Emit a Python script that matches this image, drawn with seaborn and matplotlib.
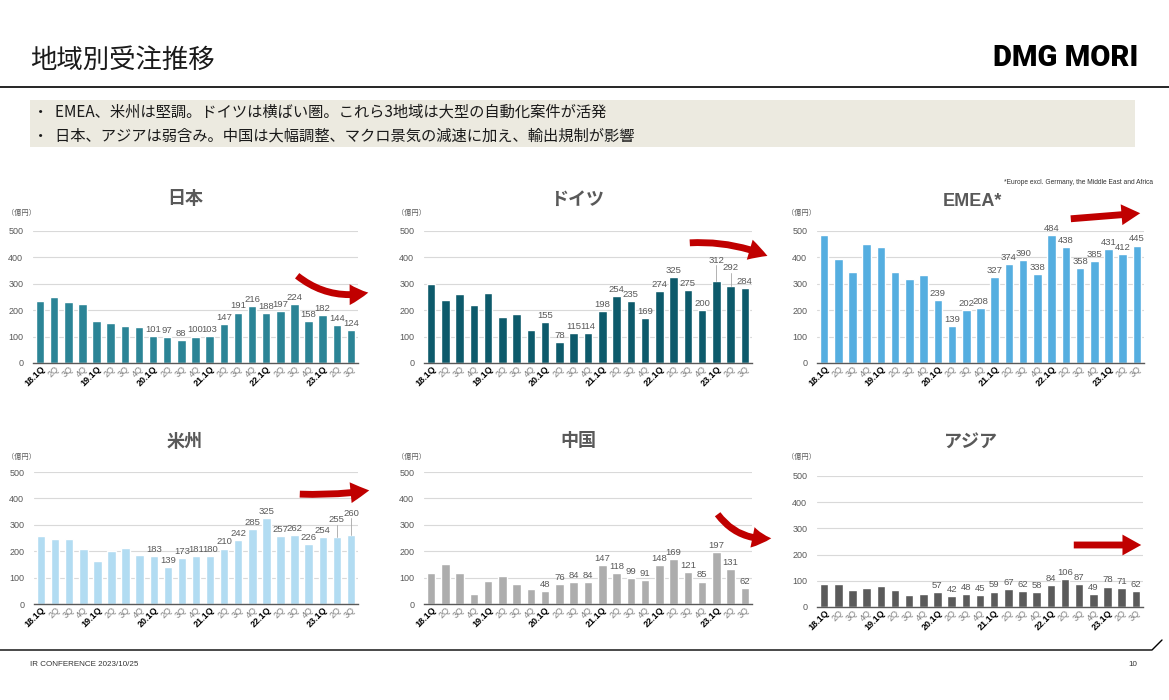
import numpy as np
import pandas as pd
import matplotlib
matplotlib.use("Agg")
import matplotlib.pyplot as plt
import matplotlib.patches as mpatches
from matplotlib.lines import Line2D
import seaborn as sns

sns.set_theme(style="white")
plt.rcParams['font.family'] = ['Liberation Sans', 'Noto Sans CJK JP', 'DejaVu Sans']

quarters = ["18.1Q", "2Q", "3Q", "4Q", "19.1Q", "2Q", "3Q", "4Q", "20.1Q", "2Q", "3Q", "4Q",
            "21.1Q", "2Q", "3Q", "4Q", "22.1Q", "2Q", "3Q", "4Q", "23.1Q", "2Q", "3Q"]

japan = [236, 251, 232, 222, 158, 151, 140, 137, 101, 97, 88, 100, 103, 147, 191, 216, 188, 197, 224, 158, 182, 144, 124]
germany = [300, 240, 263, 219, 264, 175, 187, 126, 155, 78, 115, 114, 198, 254, 235, 169, 274, 325, 275, 200, 312, 292, 284]
emea = [485, 394, 346, 449, 438, 346, 318, 332, 239, 139, 202, 208, 327, 374, 390, 338, 484, 438, 358, 385, 431, 412, 445]
americas = [257, 246, 247, 208, 163, 199, 211, 184, 183, 139, 173, 181, 180, 210, 242, 285, 325, 257, 262, 226, 254, 255, 260]
china = [119, 150, 117, 36, 88, 106, 77, 55, 48, 76, 84, 84, 147, 118, 99, 91, 148, 169, 121, 85, 197, 131, 62]
asia = [89, 88, 63, 74, 80, 66, 44, 49, 57, 42, 48, 45, 59, 67, 62, 58, 84, 106, 87, 49, 78, 71, 62]

titles = ["日本", "ドイツ", "EMEA*", "米州", "中国", "アジア"]
colors = ["#2B8496", "#0D5A6B", "#55AEE0", "#B2DCF2", "#ADADAD", "#5A5A5A"]

W, H = 1169, 700
fig = plt.figure(figsize=(W / 100, H / 100), dpi=100)


def fx(x):
    return x / W


def fy(y):
    return 1 - y / H


# header
fig.text(fx(30), fy(60), "地域別受注推移", fontsize=19, color="#1a1a1a", va="center", ha="left",
         family=['Noto Sans CJK JP'])
fig.text(fx(1138), fy(58), "DMG MORI", fontsize=21, fontweight="heavy", color="black", va="center",
         ha="right", family=['Roboto', 'DejaVu Sans'])
fig.add_artist(Line2D([0, 1], [fy(87), fy(87)], color="black", lw=1.2))
fig.add_artist(mpatches.Rectangle((fx(30), fy(147)), fx(1105), 47 / H, color="#ECEAE0", lw=0))
fig.text(fx(33), fy(112), "・  EMEA、米州は堅調。ドイツは横ばい圏。これら3地域は大型の自動化案件が活発",
         fontsize=11, va="center", ha="left", color="#1a1a1a", family=['Noto Sans CJK JP'])
fig.text(fx(33), fy(136), "・  日本、アジアは弱含み。中国は大幅調整、マクロ景気の減速に加え、輸出規制が影響",
         fontsize=11, va="center", ha="left", color="#1a1a1a", family=['Noto Sans CJK JP'])

# footer
fig.add_artist(Line2D([0, fx(1152), fx(1162)], [fy(650), fy(650), fy(640)], color="black", lw=1))
fig.text(fx(30), fy(665), "IR CONFERENCE 2023/10/25", fontsize=5.8, va="center", ha="left", color="#333333")
fig.text(fx(1137), fy(665), "10", fontsize=5.8, va="center", ha="right", color="#333333")

fig.text(fx(1153), fy(182), "*Europe excl. Germany, the Middle East and Africa", fontsize=4.8,
         va="center", ha="right", color="#333333")

# panel geometry (pixels): left, right, y_top(500), y_bottom(0)
geoms = [
    (33, 358, 231, 363),
    (424, 752, 231, 363),
    (817, 1144, 231, 363),
    (34, 358, 472, 604),
    (424, 752, 472, 604),
    (817, 1143, 476, 607),
]
title_pos = [(185, 200), (577, 200), (972, 202), (185, 442), (578, 442), (971, 442)]
unit_pos = [(7, 213), (397, 213), (787, 213), (7, 457), (397, 457), (787, 457)]
series = [japan, germany, emea, americas, china, asia]

# label offsets for labels moved away from bars (drawn with leader lines)
leader = {(1, 20): 60, (1, 21): 52, (3, 21): 48, (3, 22): 66}

for k, (vals, col, ttl, g) in enumerate(zip(series, colors, titles, geoms)):
    l, r, t, b = g
    ax = fig.add_axes([fx(l), fy(b), (r - l) / W, (b - t) / H])
    df = pd.DataFrame({"q": np.arange(len(vals)), "v": vals})
    sns.barplot(data=df, x="q", y="v", color=col, saturation=1, width=0.6, ax=ax)
    ax.set_xlim(-0.5, len(vals) - 0.5)
    ax.set_ylim(0, 500)
    ax.set_yticks(range(0, 501, 100))
    ax.grid(axis="y", color="#D9D9D9", lw=0.8)
    ax.set_axisbelow(True)
    for s in ["top", "right", "left"]:
        ax.spines[s].set_visible(False)
    ax.spines["bottom"].set_color("#595959")
    ax.spines["bottom"].set_linewidth(1)
    ax.set_xlabel("")
    ax.set_ylabel("")
    ax.tick_params(axis="y", length=0, labelsize=6.5, labelcolor="#595959", pad=7)
    ax.tick_params(axis="x", length=0, pad=1)
    ax.set_xticks(np.arange(len(vals)))
    ax.set_xticklabels(quarters, rotation=45, ha="right", rotation_mode="anchor", fontsize=6.5)
    for lab, q in zip(ax.get_xticklabels(), quarters):
        if "." in q:
            lab.set_fontweight("bold")
            lab.set_color("black")
        else:
            lab.set_color("#7F7F7F")
    for i in range(8, len(vals)):
        v = vals[i]
        off = leader.get((k, i))
        if off:
            ax.text(i, v + off, str(v), ha="center", va="bottom", fontsize=6.8, color="#595959", clip_on=False)
            ax.plot([i, i], [v, v + off - 2], color="#A6A6A6", lw=0.6, clip_on=False)
        else:
            ax.text(i, v + 8, str(v), ha="center", va="bottom", fontsize=6.8, color="#595959", clip_on=False)
    fig.text(fx(title_pos[k][0]), fy(title_pos[k][1]), ttl, fontsize=13, fontweight="bold",
             color="#595959", ha="center", va="center", family=['Liberation Sans', 'Noto Sans CJK JP'])
    fig.text(fx(unit_pos[k][0]), fy(unit_pos[k][1]), "（億円）", fontsize=5.2, color="#595959",
             ha="left", va="center", family=['Noto Sans CJK JP'])

# red trend arrows
arrows = [
    ((295, 274), (371, 292), "arc3,rad=0.25"),
    ((687, 243), (770, 257), "arc3,rad=-0.12"),
    ((1068, 219), (1143, 213), "arc3,rad=0"),
    ((297, 494), (372, 490), "arc3,rad=0.05"),
    ((716, 512), (774, 538), "arc3,rad=0.3"),
    ((1071, 545), (1144, 545), "arc3,rad=0"),
]
for (x0, y0), (x1, y1), cs in arrows:
    p = mpatches.FancyArrowPatch((fx(x0), fy(y0)), (fx(x1), fy(y1)), transform=fig.transFigure,
                                 arrowstyle="simple,head_length=0.9,head_width=1.0,tail_width=0.33",
                                 mutation_scale=15, color="#C00000", connectionstyle=cs, lw=0)
    fig.add_artist(p)

fig.savefig("out.png", dpi=100, facecolor="white")
